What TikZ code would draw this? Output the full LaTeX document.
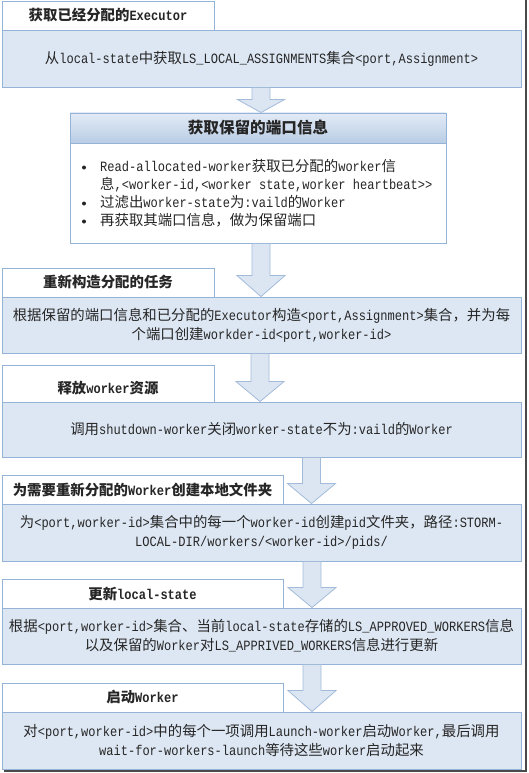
\documentclass[tikz,border=0pt]{standalone}
\usepackage{fontspec}
\setmainfont{Liberation Mono}[Scale=1.18,FakeStretch=0.85]
\newfontfamily\latfont{Liberation Mono}[Scale=1.18,FakeStretch=0.85]
\newfontfamily\cjkfont[Scale=1.2]{Noto Sans CJK SC}
\usetikzlibrary{calc}
\XeTeXinterchartokenstate=1
\newXeTeXintercharclass\cjkcls
\newcount\mycnt
\mycnt="2E80
\loop\ifnum\mycnt<"A000
  \XeTeXcharclass\mycnt=\cjkcls
  \advance\mycnt by 1
\repeat
\XeTeXcharclass"FF0C=\cjkcls
\XeTeXcharclass"FF1A=\cjkcls
\XeTeXinterchartoks 0 \cjkcls = {\cjkfont}
\XeTeXinterchartoks 4095 \cjkcls = {\cjkfont}
\XeTeXinterchartoks \cjkcls 0 = {\latfont}
\XeTeXinterchartoks 4095 0 = {\latfont}
\definecolor{bordc}{HTML}{95B3D7}
\definecolor{boxc}{HTML}{DDE7F3}
\definecolor{arrfill}{HTML}{DCE6F2}
\definecolor{arrbord}{HTML}{A3BBDB}
\definecolor{hdtop}{HTML}{E3EBF6}
\definecolor{hdbot}{HTML}{B9CDE5}
\definecolor{txt}{HTML}{262626}
\definecolor{shad}{HTML}{4A4A4A}
\tikzset{
  tabbox/.style={draw=bordc, fill=white, line width=0.9pt, inner sep=0pt, text=txt,
    font=\fontsize{12}{15}\selectfont\bfseries},
  mainbox/.style={draw=bordc, fill=boxc, line width=0.9pt, inner sep=0pt, text=txt,
    align=center, font=\fontsize{12}{19}\selectfont},
  framebox/.style={draw=bordc, fill=white, line width=0.9pt, inner sep=0pt},
  headbox/.style={draw=bordc, top color=hdtop, bottom color=hdbot, line width=0.9pt,
    inner sep=0pt, text=txt, font=\fontsize{13}{16}\selectfont\bfseries},
  bodytext/.style={inner sep=0pt, text=txt, align=left, font=\fontsize{12}{18}\selectfont},
  titletext/.style={inner sep=0pt, text=txt, font=\fontsize{12}{15}\selectfont\bfseries},
  arrowst/.style={draw=arrbord, fill=arrfill, line width=0.8pt, line join=miter},
  bulletdot/.style={fill=txt},
  shadowline/.style={draw=shad, line width=2pt}
}
\newcommand\barrow[5]{%
  \draw[arrowst] let \p1=(#1.south), \p2=(#2.north) in
    ({(#3-9)*1pt},\y1) -- ({(#3-9)*1pt},{\y2+#4pt}) -- ({(#3-#5)*1pt},{\y2+#4pt})
    -- ({#3*1pt},\y2) -- ({(#3+#5)*1pt},{\y2+#4pt}) -- ({(#3+9)*1pt},{\y2+#4pt})
    -- ({(#3+9)*1pt},\y1) -- cycle;}
\begin{document}
\begin{tikzpicture}[x=1pt, y=-1pt]
\useasboundingbox (0,0) rectangle (529,773);
\fill[white] (0,0) rectangle (529,773);
% shadow frame
\coordinate (s1) at (525.5,0);
\coordinate (s2) at (525.5,771);
\coordinate (s3) at (4,771);
\draw[shadowline] (s1) -- (s2) -- (s3);

% step 1
\node[tabbox, minimum width=212, minimum height=29] (t1) at (108,15.5) {获取已经分配的Executor};
\node[mainbox, minimum width=519, minimum height=57] (m1) at (261.5,58.5)
  {从local-state中获取LS\_LOCAL\_ASSIGNMENTS集合<port,Assignment>};

% step 2
\node[framebox, minimum width=376, minimum height=130] (m2) at (258,178) {};
\node[headbox, minimum width=376, minimum height=30] (h2) at (258,128) {获取保留的端口信息};
\node[bodytext, anchor=base west] (b2) at (100,225)
  {Read-allocated-worker获取已分配的worker信\\
   息,<worker-id,<worker state,worker heartbeat>>\\
   过滤出worker-state为:vaild的Worker\\
   再获取其端口信息，做为保留端口};
\fill[bulletdot] (84,167.5) circle (2);
\fill[bulletdot] (84,203.5) circle (2);
\fill[bulletdot] (84,221.5) circle (2);

% step 3
\node[tabbox, minimum width=212, minimum height=29] (t3) at (108,282.5) {重新构造分配的任务};
\node[mainbox, minimum width=519, minimum height=56] (m3) at (261.5,325)
  {根据保留的端口信息和已分配的Executor构造<port,Assignment>集合，并为每\\
   个端口创建workder-id<port,worker-id>};

% step 4
\node[tabbox, minimum width=212, minimum height=37] (t4) at (108,383.5) {};
\node[titletext] (t4l) at (108,388) {释放worker资源};
\node[mainbox, minimum width=519, minimum height=55] (m4) at (261.5,429.5)
  {调用shutdown-worker关闭worker-state不为:vaild的Worker};

% step 5
\node[tabbox, minimum width=281, minimum height=29] (t5) at (142.5,489.5) {为需要重新分配的Worker创建本地文件夹};
\node[mainbox, minimum width=519, minimum height=57] (m5) at (261.5,532.5)
  {为<port,worker-id>集合中的每一个worker-id创建pid文件夹，路径:STORM-\\
   LOCAL-DIR/workers/<worker-id>/pids/};

% step 6
\node[tabbox, minimum width=281, minimum height=29] (t6) at (142.5,593.5) {更新local-state};
\node[mainbox, minimum width=519, minimum height=56] (m6) at (261.5,636)
  {根据<port,worker-id>集合、当前local-state存储的LS\_APPROVED\_WORKERS信息\\
   以及保留的Worker对LS\_APPRIVED\_WORKERS信息进行更新};

% step 7
\node[tabbox, minimum width=281, minimum height=29] (t7) at (142.5,697.5) {启动Worker};
\node[mainbox, minimum width=519, minimum height=57] (m7) at (261.5,740.5)
  {对<port,worker-id>中的每个一项调用Launch-worker启动Worker,最后调用\\
   wait-for-workers-launch等待这些worker启动起来};

% arrows
\barrow{m1}{m2}{261}{13}{23.5}
\barrow{m2}{m3}{261}{21}{24}
\barrow{m3}{m4}{260}{20}{24}
\barrow{m4}{m5}{311.5}{20}{24}
\barrow{m5}{m6}{312}{20}{24}
\barrow{m6}{m7}{312}{21}{24}
\end{tikzpicture}
\end{document}
